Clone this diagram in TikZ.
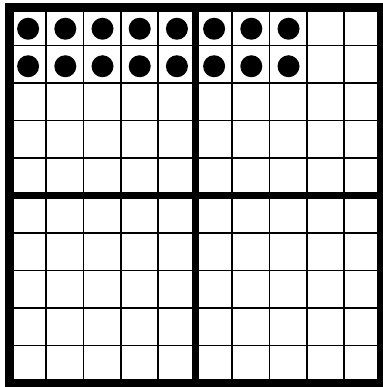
\documentclass[tikz,border=0pt]{standalone}
\begin{document}
\begin{tikzpicture}[x=1pt,y=-1pt,
  thin grid/.style={line width=1.8pt,black},
  thick grid/.style={line width=7pt,black},
  frame/.style={line width=9pt,black},
  dot/.style={fill=black}]
\useasboundingbox (0,0) rectangle (382,387);
\fill[white] (0,0) rectangle (382,387);
% thin lines
\foreach \i in {1,2,3,4,6,7,8,9} {
  \draw[thin grid] ({9+37.2*\i},8) -- ({9+37.2*\i},383);
  \draw[thin grid] (9,{8+37.5*\i}) -- (381,{8+37.5*\i});
}
% middle thick lines
\draw[thick grid] (195,8) -- (195,383);
\draw[thick grid] (9,195.5) -- (381,195.5);
% outer frame
\draw[frame] (9,8) rectangle (381,383);
% dots
\foreach \r in {0,1} {
  \foreach \c in {0,...,7} {
    \fill[dot] ({9+37.2*\c+18.6+0.5},{8+37.5*\r+18.75+2}) circle (11);
  }
}
\end{tikzpicture}
\end{document}
